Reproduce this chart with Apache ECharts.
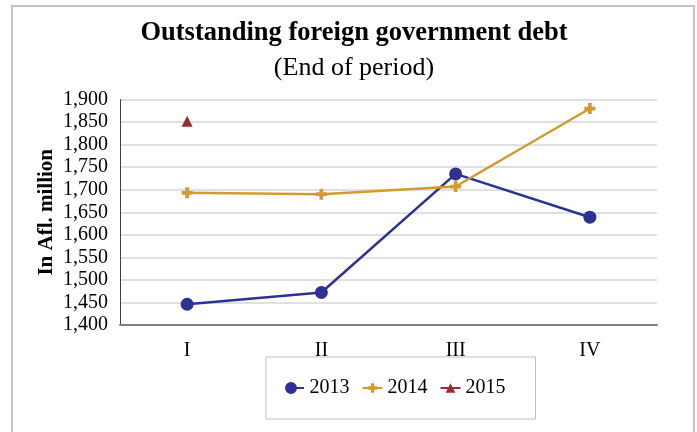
<!DOCTYPE html>
<html>
<head>
<meta charset="utf-8">
<script src="https://cdn.jsdelivr.net/npm/echarts@6/dist/echarts.min.js"></script>
<style>html,body{margin:0;padding:0;background:#fff;}#c{width:697px;height:432px;}</style>
</head>
<body>
<div id="c"></div>
<script>
const categories = ['I', 'II', 'III', 'IV'];
const s2013 = [1446, 1472, 1735, 1639];
const s2014 = [1693, 1690, 1707, 1880];
const s2015 = [1852, null, null, null];
const yTicks = { min: 1400, max: 1900, interval: 50 };

const font = '"Liberation Serif", "Times New Roman", serif';
const plus = 'path://M3.3,0 H6.7 V3.3 H10 V6.7 H6.7 V10 H3.3 V6.7 H0 V3.3 H3.3 Z';
const circleTail = 'path://M0,6 A6,6 0 1,1 12,6 A6,6 0 1,1 0,6 Z M10,5 H19 V7 H10 Z';
const chart = echarts.init(document.getElementById('c'));
chart.setOption({
  animation: false,
  title: {
    text: 'Outstanding foreign government debt',
    subtext: '(End of period)',
    left: 349, top: 15, textAlign: 'center', itemGap: 8,
    textStyle: { fontFamily: font, fontWeight: 'bold', fontSize: 26.5, color: '#000' },
    subtextStyle: { fontFamily: font, fontSize: 26, color: '#000' }
  },
  graphic: [{
    type: 'rect', shape: { x: 12, y: 6, width: 682, height: 460 }, silent: true,
    style: { fill: 'none', stroke: '#c4c4c4', lineWidth: 2 }, z: -1
  }],
  legend: {
    left: 266, top: 357,
    padding: [21, 30, 21, 19],
    borderColor: '#bfbfbf', borderWidth: 1,
    itemGap: 12, itemWidth: 20, itemHeight: 12,
    textStyle: { fontFamily: font, fontSize: 20, color: '#000' },
    data: [{ name: '2013', icon: circleTail }, '2014', '2015']
  },
  grid: { left: 120, right: 40, top: 99.5, bottom: 107 },
  xAxis: {
    type: 'category', data: categories, boundaryGap: true,
    axisLine: { lineStyle: { color: '#7f7f7f', width: 2 } },
    axisTick: { show: false },
    axisLabel: { fontFamily: font, fontSize: 20, color: '#000', margin: 16 }
  },
  yAxis: {
    type: 'value', min: yTicks.min, max: yTicks.max, interval: yTicks.interval,
    name: 'In Afl. million', nameLocation: 'middle', nameGap: 63, nameRotate: 90,
    nameMoveOverlap: false,
    nameTextStyle: { fontFamily: font, fontSize: 21, fontWeight: 'bold', color: '#000' },
    axisLine: { show: true, lineStyle: { color: '#404040', width: 1 } },
    axisTick: { show: false },
    splitLine: { lineStyle: { color: '#d6d6d6', width: 1.5 } },
    axisLabel: {
      fontFamily: font, fontSize: 20, color: '#000', margin: 12,
      formatter: v => v.toLocaleString('en-US')
    }
  },
  series: [
    { name: '2013', type: 'line', data: s2013, symbol: 'circle', symbolSize: 13,
      itemStyle: { color: '#2e3192' }, lineStyle: { color: '#2e3192', width: 2.5 } },
    { name: '2014', type: 'line', data: s2014, symbol: plus, symbolSize: 11,
      itemStyle: { color: '#d49a30' }, lineStyle: { color: '#d49a30', width: 2.5 } },
    { name: '2015', type: 'line', data: s2015, symbol: 'triangle', symbolSize: 11,
      itemStyle: { color: '#9b2c2f' }, lineStyle: { color: '#9b2c2f', width: 2.5 } }
  ]
});
</script>
</body>
</html>
